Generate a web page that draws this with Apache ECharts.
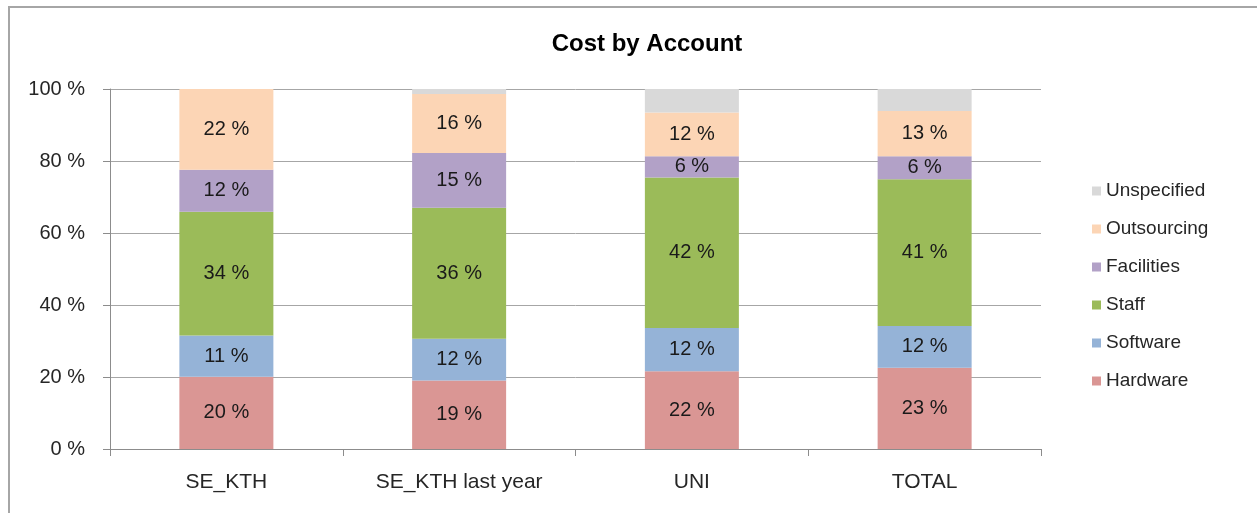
<!DOCTYPE html>
<html>
<head>
<meta charset="utf-8">
<script src="https://cdn.jsdelivr.net/npm/echarts@6/dist/echarts.min.js"></script>
<style>
  html, body { margin: 0; padding: 0; background: #fff; }
  #frame { position: absolute; left: 8px; top: 6px; width: 1249px; height: 507px;
           border-top: 2px solid #a6a6a6; border-left: 2px solid #a6a6a6; box-sizing: border-box; }
  #chart { position: absolute; left: 0; top: 0; width: 1257px; height: 513px; }
</style>
</head>
<body>
<div id="frame"></div>
<div id="chart"></div>
<script>
// categories + stacked shares (percent)
const categories = ['SE_KTH', 'SE_KTH last year', 'UNI', 'TOTAL']
const hardware    = [20.1, 19.0, 21.6, 22.6]
const software    = [11.4, 11.6, 12.0, 11.6]
const staff       = [34.4, 36.4, 41.8, 40.7]
const facilities  = [11.7, 15.2, 5.9, 6.4]
const outsourcing = [22.4, 16.4, 12.2, 12.6]
const unspecified = [0, 1.4, 6.5, 6.1]

const seriesDefs = [
    { name: 'Hardware', data: hardware, color: '#da9694' },
    { name: 'Software', data: software, color: '#95b3d7' },
    { name: 'Staff', data: staff, color: '#9bbb59' },
    { name: 'Facilities', data: facilities, color: '#b2a1c7' },
    { name: 'Outsourcing', data: outsourcing, color: '#fcd5b5' },
    { name: 'Unspecified', data: unspecified, color: '#d9d9d9', noLabel: true },
]

const font = '"Liberation Sans", Arial, sans-serif'
const chart = echarts.init(document.getElementById('chart'), null, { renderer: 'canvas' })

chart.setOption({
    animation: false,
    title: {
        text: 'Cost by Account',
        left: 642,
        textAlign: 'center',
        top: 27,
        textStyle: { fontFamily: font, fontWeight: 'bold', fontSize: 24, color: '#000' }
    },
    grid: { left: 110, right: 216, top: 89, bottom: 64 },
    legend: {
        orient: 'vertical',
        left: 1087,
        top: 176,
        itemWidth: 9,
        itemHeight: 9,
        itemGap: 18,
        icon: 'rect',
        data: seriesDefs.map(s => s.name).reverse(),
        textStyle: { fontFamily: font, fontSize: 19, color: '#262626', lineHeight: 20, padding: [0, 0, 0, 0] }
    },
    xAxis: {
        type: 'category',
        data: categories,
        boundaryGap: true,
        axisLine: { lineStyle: { color: '#8c8c8c', width: 1 } },
        axisTick: { show: true, length: 7, lineStyle: { color: '#8c8c8c' } },
        axisLabel: { margin: 23, fontFamily: font, fontSize: 21, color: '#262626' }
    },
    yAxis: {
        type: 'value',
        min: 0,
        max: 100,
        interval: 20,
        axisLine: { show: true, lineStyle: { color: '#8c8c8c', width: 1 } },
        axisTick: { show: true, length: 7, lineStyle: { color: '#8c8c8c' } },
        splitLine: { lineStyle: { color: '#a6a6a6', width: 1 } },
        axisLabel: { margin: 25, fontFamily: font, fontSize: 20, color: '#262626', formatter: v => v + ' %' }
    },
    series: seriesDefs.map(s => ({
        name: s.name,
        type: 'bar',
        stack: 'total',
        barWidth: 94,
        data: s.data,
        itemStyle: { color: s.color },
        label: {
            show: !s.noLabel,
            position: 'inside',
            fontFamily: font,
            fontSize: 20,
            color: '#1a1a1a',
            formatter: p => Math.round(p.value) + ' %'
        }
    }))
})
</script>
</body>
</html>
